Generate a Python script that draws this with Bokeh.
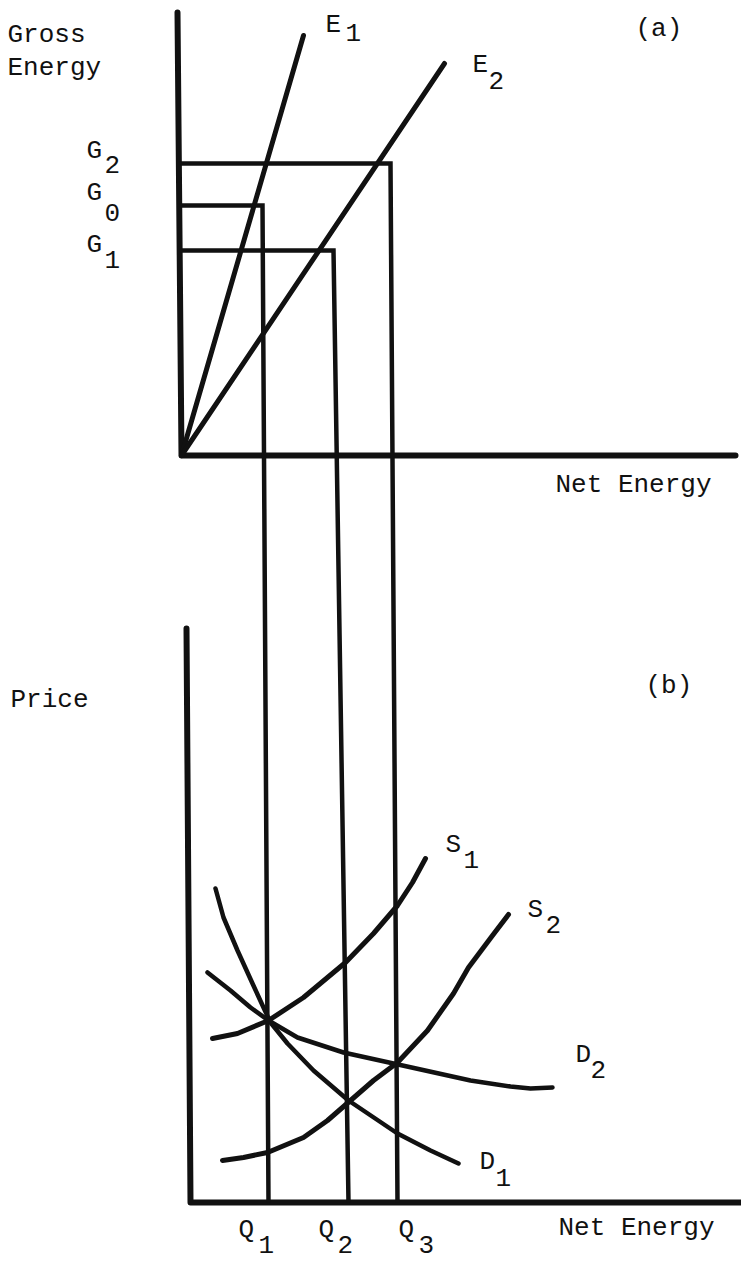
from bokeh.plotting import figure
from bokeh.models import Range1d
from bokeh.core.properties import value
from bokeh.embed import file_html
from bokeh.resources import INLINE

# Page coordinates of the two stacked panels (y grows downwards)
W, H = 741, 1261

# ---- panel (a): gross vs net energy ----
axis_a_x = [177, 181, 735]
axis_a_y = [12, 455, 455]
origin_a = (181, 455)
e1_end = (303, 35)
e2_end = (444, 63)

# gross-energy levels and the net-energy quantities they map to
g_names = ["G2", "G0", "G1"]
g_level = [163, 205, 250]          # height of each G level
g_corner = [390, 262, 333]         # where the level meets its E line
q_for_g = [397, 268, 348]          # matching quantity on the price panel axis

# ---- panel (b): price vs net energy ----
axis_b_x = [186, 190, 741]
axis_b_y = [628, 1202, 1202]
q_axis_y = 1202

s1_x = [212, 237, 268, 303, 345, 373, 397, 412, 425]
s1_y = [1038, 1033, 1020, 997, 962, 933, 905, 882, 858]

s2_x = [222, 243, 267, 303, 327, 350, 373, 397, 427, 453, 468, 492, 508]
s2_y = [1160, 1157, 1152, 1137, 1120, 1100, 1080, 1062, 1030, 993, 967, 935, 914]

d1_x = [215, 223, 237, 252, 263, 270, 287, 313, 348, 397, 430, 458]
d1_y = [888, 917, 950, 983, 1007, 1022, 1043, 1070, 1100, 1133, 1150, 1163]

d2_x = [207, 230, 250, 268, 297, 343, 393, 470, 510, 530, 552]
d2_y = [972, 990, 1007, 1020, 1037, 1052, 1063, 1080, 1086, 1088, 1087]

# ---- labels: main text and subscript pieces ----
main_text = ["Gross", "Energy", "(a)", "Net Energy", "Price", "(b)", "Net Energy",
             "E", "E", "G", "G", "G", "S", "S", "D", "D", "Q", "Q", "Q"]
main_x = [7, 7, 635, 555, 10, 645, 558,
          325, 472, 86, 86, 86, 445, 527, 575, 479, 238, 318, 398]
main_y = [34, 67, 28, 484, 699, 685, 1227,
          24, 64, 150, 192, 244, 844, 909, 1054, 1161, 1229, 1229, 1229]

sub_text = ["1", "2", "2", "0", "1", "1", "2", "2", "1", "1", "2", "3"]
sub_x = [345, 488, 104, 104, 104, 463, 545, 590, 495, 258, 337, 418]
sub_y = [32, 80, 164, 212, 259, 859, 924, 1069, 1177, 1244, 1244, 1244]

FONT = value("Liberation Mono")
INK = "#111111"

p = figure(width=W, height=H, x_range=Range1d(0, W), y_range=Range1d(H, 0),
           x_axis_type=None, y_axis_type=None, toolbar_location=None,
           output_backend="svg", min_border=0)
p.outline_line_color = None
p.background_fill_color = "white"
p.border_fill_color = "white"

# axes of both panels
p.line(axis_a_x, axis_a_y, line_width=6, color=INK, line_join="round", line_cap="round")
p.line(axis_b_x, axis_b_y, line_width=6, color=INK, line_join="round", line_cap="round")

# energy lines E1 and E2 from the origin
p.multi_line(xs=[[origin_a[0], e1_end[0]], [origin_a[0], e2_end[0]]],
             ys=[[origin_a[1], e1_end[1]], [origin_a[1], e2_end[1]]],
             line_width=5, color=INK, line_cap="round")

# each G level runs across to its E line, then drops to its Q on the lower axis
step_xs = [[axis_a_x[0] + 2, c, q] for c, q in zip(g_corner, q_for_g)]
step_ys = [[g, g, q_axis_y] for g in g_level]
p.multi_line(xs=step_xs, ys=step_ys, line_width=4.5, color=INK, line_join="miter")

# supply and demand curves
for cx, cy, lw in [(s1_x, s1_y, 5), (s2_x, s2_y, 5), (d1_x, d1_y, 4.5), (d2_x, d2_y, 4.5)]:
    p.line(cx, cy, line_width=lw, color=INK, line_join="round", line_cap="round")

p.text(x=main_x, y=main_y, text=main_text, text_font=FONT, text_font_size="26px",
       text_baseline="alphabetic", text_align="left", text_color=INK)
p.text(x=sub_x, y=sub_y, text=sub_text, text_font=FONT, text_font_size="26px",
       text_baseline="alphabetic", text_align="left", text_color=INK)

open("out.html", "w").write(file_html(p, INLINE))
